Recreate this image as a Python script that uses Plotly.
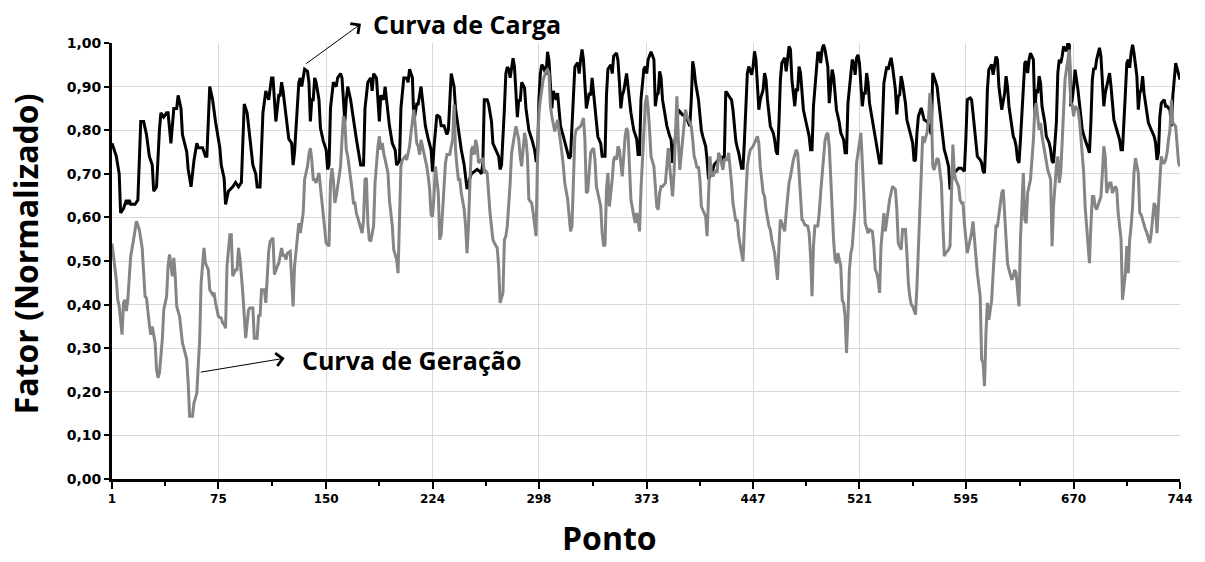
import plotly.graph_objects as go

# (ponto, valor)
carga = [
 (1,.77),(4,.74),(6,.70),(7,.61),(9,.62),(10,.63),(11,.64),(12,.63),(13,.64),(14,.63),(16,.63),(17,.63),(19,.64),(21,.82),(23,.82),(25,.79),(27,.74),(29,.72),(30,.66),(32,.67),(34,.80),(35,.84),(37,.83),(39,.84),(40,.84),(42,.77),(44,.85),(46,.85),(47,.88),(49,.85),(50,.79),(53,.75),(54,.71),(56,.67),(58,.73),(60,.77),(61,.76),(63,.76),(64,.76),(66,.74),(67,.74),(69,.90),(71,.87),(73,.82),(76,.76),(77,.72),(79,.69),(80,.63),(82,.66),(85,.67),(87,.68),(89,.67),(91,.68),(93,.86),(95,.84),(97,.78),(99,.72),(101,.70),(102,.67),(104,.67),(106,.84),(108,.89),(110,.87),(112,.92),(113,.92),(115,.82),(117,.88),(118,.88),(119,.91),(120,.89),(122,.84),(124,.78),(126,.77),
 (127,.72),(128,.75),(130,.85),(131,.91),(132,.92),(133,.90),(134,.92),(135,.94),(137,.935),(138,.91),(139,.82),(140,.87),(141,.87),(142,.92),(143,.91),(145,.87),(146,.805),(148,.775),(150,.755),(151,.71),(152,.72),(153,.85),(155,.91),(157,.90),(158,.92),(160,.93),(161,.92),(163,.82),(164,.87),(165,.90),(167,.87),(169,.82),(171,.78),(172,.76),(174,.72),(176,.72),(177,.85),(179,.91),(181,.92),(182,.89),(183,.93),(185,.92),(187,.82),(188,.88),(190,.87),(191,.90),(192,.87),(194,.81),(196,.77),(198,.755),(199,.72),(201,.73),(202,.85),(204,.92),(206,.92),(207,.91),(208,.94),(210,.92),(211,.82),(213,.86),(214,.86),(216,.90),(217,.87),(219,.81),(221,.78),(223,.755),(224,.705),(225,.76),(227,.835),(229,.83),(230,.81),(232,.81),(234,.79),(235,.80),(237,.93),(239,.90),(240,.85),(242,.80),(244,.755),(246,.72),(248,.665),(250,.69),(251,.70),
 (253,.705),(255,.71),(257,.705),(258,.70),(259,.725),(260,.87),(262,.87),(263,.86),(265,.82),(266,.77),(268,.755),(270,.74),(271,.71),(272,.72),(274,.85),(275,.93),(276,.945),(277,.94),(278,.92),(280,.965),(281,.945),(283,.83),(284,.87),(285,.866),(286,.91),(288,.897),(289,.85),(291,.80),(293,.78),(295,.755),(296,.73),(297,.73),(298,.87),(299,.93),(300,.95),(301,.946),(303,.927),(304,.98),(305,.96),(306,.91),(307,.85),(308,.89),(310,.87),(311,.885),(312,.855),(313,.81),(315,.786),(317,.763),(319,.735),(320,.74),(322,.88),(323,.945),(325,.955),(326,.93),(327,.962),(328,.985),(329,.962),(330,.89),(331,.85),(333,.885),(334,.88),(335,.92),(336,.89),(338,.83),(339,.785),(341,.77),(342,.74),(344,.74),(345,.88),(346,.94),(348,.95),(349,.93),(350,.97),(352,.977),(353,.96),(354,.91),(355,.85),(356,.88),(357,.89),(359,.93),(360,.897),(362,.84),(364,.80),(366,.78),(367,.744),(368,.744),(369,.87),(371,.94),(372,.946),(373,.93),(374,.962),(375,.973),(376,.98),
 (378,.962),(379,.855),(380,.88),(381,.885),(382,.935),(383,.92),(384,.87),(386,.83),(387,.81),(389,.786),(390,.778),(391,.725),(392,.755),(394,.817),(395,.847),(396,.843),(398,.835),(399,.835),(401,.828),(402,.817),(403,.809),(404,.87),(405,.958),(406,.939),(407,.908),(409,.87),(410,.832),(411,.80),(412,.786),(414,.763),(415,.732),(416,.687),(417,.694),(418,.706),(419,.709),(420,.721),(421,.725),(422,.729),(424,.736),(425,.74),(426,.729),(427,.74),(428,.889),(429,.885),(431,.874),(432,.87),(433,.847),(434,.805),(435,.775),(436,.76),(437,.748),(439,.713),(440,.713),(441,.778),(442,.878),(443,.931),(444,.946),(446,.927),(447,.946),(448,.981),(449,.962),(450,.904),(451,.847),(452,.87),(454,.893),(455,.931),(456,.916),(457,.87),(458,.832),(459,.809),(461,.794),(462,.778),(463,.752),(464,.744),(465,.817),(466,.916),(467,.954),(469,.966),(470,.935),(471,.962),(472,.992),(473,.985),(474,.916),(476,.855),(477,.893),(478,.893),(479,.946),(480,.931),(481,.885),(482,.847),(484,.816),(485,.80),(486,.786),(487,.755),(488,.755),(489,.855),(491,.931),(492,.977),(493,.977),(494,.954),(495,.985),(496,.996),(497,.985),
 (499,.946),(500,.862),(501,.893),(502,.939),(503,.924),(504,.893),(505,.847),(507,.817),(508,.794),(509,.786),(510,.778),(511,.748),(512,.748),(513,.862),(515,.939),(516,.962),(517,.954),(518,.927),(519,.966),(520,.973),(521,.954),(523,.855),(524,.885),(525,.885),(526,.931),(527,.908),(528,.862),(530,.824),(532,.786),(533,.763),(535,.725),(536,.725),(537,.832),(538,.908),(540,.946),(541,.939),(542,.954),(543,.966),(544,.946),(546,.893),(547,.836),(548,.878),(549,.881),(550,.924),(551,.908),(553,.862),(554,.824),(556,.797),(558,.771),(559,.729),(560,.732),(561,.794),(562,.832),(564,.851),(565,.836),(566,.824),(568,.82),(569,.813),(570,.801),(571,.79),(572,.931),(573,.92),(575,.90),(576,.87),(577,.84),(578,.80),(579,.778),(580,.755),(581,.744),(583,.717),(584,.664),(585,.687),(586,.702),(587,.706),(588,.706),(590,.713),(591,.713),(592,.713),(593,.709),(594,.706),(595,.778),(596,.87),(598,.874),(599,.87),(600,.839),(601,.801),(602,.763),(603,.74),(605,.732),(606,.725),(607,.706),(608,.702),(609,.778),(610,.893),(611,.939),(613,.951),(614,.927),(615,.946),(616,.969),(617,.962),(618,.901),(620,.847),
 (622,.885),(623,.924),(624,.90),(625,.855),(627,.801),(628,.786),(629,.778),(630,.763),(631,.732),(632,.725),(633,.778),(635,.901),(636,.954),(637,.958),(638,.931),(639,.962),(640,.977),(642,.962),(643,.839),(644,.893),(645,.885),(646,.924),(647,.908),(648,.855),(650,.817),(651,.786),(653,.771),(654,.755),(655,.729),(656,.725),(658,.817),(659,.931),(660,.962),(661,.954),(662,.969),(663,.992),(665,.981),(666,1.0),(667,.996),(668,.855),(669,.87),(670,.90),(671,.939),(673,.893),(674,.855),(675,.832),(676,.801),(677,.786),(678,.778),(680,.759),(681,.748),(682,.817),(683,.916),(684,.943),(685,.939),(686,.962),(688,.989),(689,.969),(690,.908),(691,.855),(692,.885),(693,.901),(695,.931),(696,.901),(697,.855),(698,.824),(700,.801),(702,.778),(703,.755),(704,.755),(706,.885),(707,.954),(708,.962),(709,.943),(710,.977),(711,.996),(712,.977),(714,.924),(715,.847),(716,.885),(717,.893),(718,.924),(719,.885),(721,.839),(722,.817),(724,.801),(726,.786),(727,.771),(728,.732),(729,.748),(730,.832),(731,.862),(733,.87),(734,.855),(735,.855),(736,.851),(737,.847),(738,.809),(739,.878),(741,.954),(742,.943),(743,.931),(744,.916),
]

geracao = [
 (1,.54),(4,.457),(5,.411),(6,.396),(8,.331),(9,.404),(10,.411),(11,.385),(12,.411),(13,.457),(14,.511),(16,.549),(18,.591),(20,.572),(22,.53),(24,.419),(25,.415),(27,.354),(28,.331),(29,.35),(31,.312),(32,.251),(33,.232),(34,.243),(36,.32),(37,.388),(39,.419),(40,.488),(41,.515),(43,.465),(44,.507),(45,.465),(46,.396),(48,.373),(50,.312),(51,.30),(53,.274),(54,.22),(55,.144),(57,.144),(58,.174),(59,.185),(60,.197),(62,.32),(63,.45),(65,.53),(66,.495),(68,.48),(69,.434),(71,.423),(72,.427),(73,.404),(75,.373),(77,.369),(78,.358),(79,.354),(80,.346),(81,.488),(83,.56),(84,.56),(85,.465),(87,.48),(88,.48),(89,.53),(90,.507),(92,.427),(94,.323),(96,.388),(97,.392),(99,.392),(100,.323),(102,.323),(103,.377),(104,.373),(105,.434),(107,.434),(108,.404),(110,.522),(111,.545),(113,.553),(114,.469),(116,.488),(117,.495),(119,.53),(120,.511),(121,.515),(122,.503),(123,.518),(125,.522),
 (126,.457),(127,.396),(128,.488),(130,.564),(131,.587),(132,.564),(133,.591),(134,.61),(135,.687),(137,.717),(138,.744),(139,.759),(140,.732),(141,.687),(142,.687),(143,.679),(145,.702),(146,.671),(147,.648),(148,.603),(149,.58),(150,.541),(152,.534),(153,.679),(154,.713),(155,.687),(156,.633),(157,.648),(158,.671),(160,.717),(161,.778),(162,.832),(163,.82),(164,.755),(165,.74),(166,.717),(168,.664),(169,.633),(170,.633),(171,.61),(172,.599),(173,.587),(175,.564),(176,.595),(177,.687),(178,.69),(179,.587),(180,.549),(181,.545),(183,.58),(184,.679),(186,.763),(187,.786),(188,.755),(189,.771),(190,.748),(191,.732),(193,.702),(194,.64),(196,.58),(197,.526),(199,.503),(200,.472),(201,.61),(202,.717),(203,.732),(205,.74),(206,.732),(207,.748),(208,.763),(209,.794),(210,.824),(211,.847),(213,.771),(214,.763),(215,.744),(216,.778),(217,.763),(218,.748),(220,.717),(221,.694),(222,.664),(223,.606),(224,.602),(225,.648),(226,.717),(228,.656),(229,.549),(230,.56),(231,.618),(232,.664),(233,.725),(234,.744),(236,.744),(237,.763),(238,.778),(239,.859),(240,.755),(241,.717),(242,.687),(243,.687),(244,.656),(246,.618),(247,.58),(248,.518),(249,.58),(250,.68),
 (251,.755),(252,.763),(253,.744),(254,.778),(255,.763),(256,.725),(258,.732),(259,.736),(260,.702),(261,.706),(262,.702),(263,.648),(264,.61),(266,.549),(267,.541),(269,.53),(270,.488),(271,.404),(273,.427),(274,.549),(275,.557),(276,.58),(277,.625),(278,.679),(279,.748),(281,.794),(282,.809),(283,.794),(284,.778),(285,.74),(286,.717),(288,.794),(289,.778),(290,.74),(291,.641),(292,.637),(293,.633),(294,.61),(296,.557),(297,.733),(298,.839),(299,.87),(300,.893),(301,.916),(303,.935),(304,.939),(305,.931),(306,.855),(307,.832),(308,.817),(309,.797),(311,.824),(312,.801),(313,.778),(314,.748),(315,.717),(316,.679),(318,.641),(319,.602),(320,.568),(321,.58),(322,.702),(323,.786),(324,.801),(326,.805),(327,.809),(328,.817),(329,.828),(330,.778),(331,.656),(332,.66),(334,.748),(335,.755),(336,.759),(337,.732),(338,.671),(339,.656),(341,.625),(342,.564),(343,.534),(344,.537),(345,.664),(346,.702),(347,.625),(349,.687),(350,.732),(351,.74),(352,.732),(353,.763),(354,.755),(356,.694),(357,.755),(358,.786),(359,.805),(360,.794),(361,.717),(362,.641),(364,.603),(365,.587),(366,.61),(367,.595),(368,.568),(369,.664),(371,.794),(372,.86),(373,.88),(374,.85),(375,.80),
 (376,.74),(378,.717),(379,.671),(380,.625),(381,.618),(382,.656),(383,.671),(384,.671),(386,.679),(387,.725),(388,.759),(389,.717),(390,.671),(391,.648),(392,.702),(393,.794),(394,.878),(395,.778),(396,.709),(398,.778),(399,.817),(400,.847),(401,.832),(402,.824),(404,.809),(405,.778),(406,.74),(407,.729),(408,.713),(409,.717),(410,.687),(411,.625),(412,.618),(414,.602),(415,.557),(416,.679),(417,.74),(418,.702),(419,.694),(421,.709),(422,.702),(423,.748),(424,.74),(425,.725),(426,.709),(427,.732),(429,.732),(430,.748),(431,.717),(432,.679),(433,.633),(435,.591),(436,.595),(437,.557),(439,.518),(440,.499),(441,.58),(442,.656),(443,.717),(444,.74),(445,.755),(447,.763),(448,.771),(449,.778),(450,.786),(451,.771),(452,.717),(454,.656),(455,.648),(456,.618),(457,.595),(458,.58),(459,.572),(460,.549),(462,.518),(463,.488),(464,.457),(465,.534),(466,.595),(467,.587),(469,.568),(470,.61),(471,.648),(472,.679),(473,.694),(474,.713),(475,.732),(477,.755),(478,.748),(479,.702),(480,.648),(481,.595),(482,.591),(483,.583),(485,.58),(486,.564),(487,.511),(488,.419),(489,.534),(490,.58),(492,.58),(493,.61),(494,.656),(495,.702),(496,.74),(497,.775),(498,.79),
 (499,.794),(500,.763),(501,.687),(502,.602),(503,.549),(504,.503),(505,.495),(506,.518),(508,.488),(509,.41),(510,.404),(511,.373),(512,.289),(513,.373),(514,.48),(515,.518),(516,.534),(518,.625),(519,.725),(520,.748),(522,.794),(523,.725),(524,.641),(525,.587),(527,.564),(528,.572),(530,.568),(531,.534),(532,.48),(533,.472),(534,.457),(535,.427),(536,.534),(538,.61),(539,.568),(540,.595),(541,.625),(542,.641),(543,.656),(544,.671),(546,.664),(547,.618),(548,.541),(549,.534),(550,.526),(551,.572),(553,.572),(554,.518),(555,.45),(556,.419),(557,.40),(558,.396),(560,.377),(561,.442),(562,.534),(563,.625),(564,.717),(565,.786),(566,.771),(568,.794),(569,.824),(570,.885),(571,.855),(572,.717),(573,.709),(575,.736),(576,.732),(577,.709),(578,.679),(579,.587),(580,.511),(581,.518),(583,.526),(584,.534),(585,.687),(586,.767),(587,.702),(588,.687),(590,.671),(591,.641),(592,.633),(593,.633),(594,.587),(595,.557),(596,.518),(598,.549),(599,.564),(600,.591),(601,.549),(602,.518),(603,.472),(605,.419),(606,.274),(607,.266),(608,.213),(609,.335),(610,.404),(611,.365),(613,.411),(614,.472),(615,.534),(616,.58),(617,.58),(618,.61),(620,.656),
 (621,.664),(622,.61),(623,.534),(624,.495),(625,.48),(627,.457),(628,.465),(629,.48),(630,.472),(631,.427),(632,.396),(633,.549),(635,.702),(636,.595),(637,.587),(638,.656),(639,.671),(640,.687),(642,.778),(643,.847),(644,.862),(645,.832),(646,.801),(647,.817),(648,.786),(650,.748),(651,.725),(652,.709),(653,.698),(654,.687),(655,.534),(656,.625),(658,.717),(659,.74),(660,.679),(661,.702),(662,.771),(663,.855),(664,.916),(666,.962),(667,.985),(668,.862),(669,.858),(670,.832),(671,.855),(673,.847),(674,.824),(675,.786),(676,.748),(677,.702),(678,.625),(680,.549),(681,.495),(682,.58),(683,.648),(684,.648),(685,.625),(686,.618),(688,.641),(689,.648),(690,.702),(691,.763),(692,.74),(693,.656),(695,.679),(696,.679),(697,.656),(698,.664),(699,.671),(700,.664),(701,.61),(703,.549),(704,.411),(706,.472),(707,.534),(708,.472),(709,.549),(710,.58),(711,.625),(712,.702),(713,.736),(715,.702),(716,.61),(717,.606),(718,.595),(719,.58),(720,.572),(721,.564),(723,.541),(724,.564),(725,.61),(726,.633),(727,.625),(728,.564),(730,.687),(731,.74),(732,.725),(733,.725),(734,.732),(735,.748),(736,.778),(737,.80),(738,.87),(739,.817),(741,.809),(742,.755),(743,.725),(744,.717),
]

x_ticks = [1, 75, 150, 224, 298, 373, 447, 521, 595, 670, 744]
x_minor = [38, 112.5, 187, 261, 335.5, 410, 484, 558, 632.5, 707]
y_ticks = [0, 0.1, 0.2, 0.3, 0.4, 0.5, 0.6, 0.7, 0.8, 0.9, 1.0]

carga_ponto = [p for p, v in carga]
carga_valor = [v for p, v in carga]
ger_ponto = [p for p, v in geracao]
ger_valor = [v for p, v in geracao]

fig = go.Figure()
fig.add_trace(go.Scatter(x=carga_ponto, y=carga_valor, mode="lines",
                         line=dict(color="#000000", width=3), cliponaxis=False,
                         name="Curva de Carga"))
fig.add_trace(go.Scatter(x=ger_ponto, y=ger_valor, mode="lines",
                         line=dict(color="#858585", width=3), cliponaxis=False,
                         name="Curva de Geração"))

tick_font_y = dict(family="DejaVu Sans", size=14, color="black", weight="bold")
tick_font_x = dict(family="DejaVu Sans", size=12, color="black", weight="bold")
label_font = dict(family="Open Sans", size=25, color="black", weight="bold")

fig.update_layout(
    width=1205, height=562,
    margin=dict(l=112, r=18, t=43, b=83),
    paper_bgcolor="white", plot_bgcolor="white",
    showlegend=False,
    separators=",.",
    xaxis=dict(range=[1, 744], tickmode="array", tickvals=x_ticks,
               ticktext=[str(t) for t in x_ticks],
               showgrid=True, gridcolor="#d9d9d9", gridwidth=1,
               zeroline=False, showline=True, linecolor="black", linewidth=3,
               ticks="outside", ticklen=7, tickwidth=2, tickcolor="black",
               tickfont=tick_font_x,
               minor=dict(tickmode="array", tickvals=x_minor, ticks="outside",
                          ticklen=4, tickwidth=2, tickcolor="black", showgrid=False)),
    yaxis=dict(range=[0, 1], tickmode="array", tickvals=y_ticks, tickformat=".2f",
               showgrid=True, gridcolor="#d9d9d9", gridwidth=1,
               zeroline=False, showline=True, linecolor="black", linewidth=3,
               ticks="outside", ticklen=5, tickwidth=2, tickcolor="black",
               tickfont=tick_font_y),
)

annotations = [
    dict(x=174.2, y=1.044, ax=135, ay=0.95, xref="x", yref="y", axref="x", ayref="y",
         text="", showarrow=True, arrowhead=4, arrowsize=2.5, arrowwidth=1, arrowcolor="black"),
    dict(x=121.1, y=0.277, ax=61.7, ay=0.2445, xref="x", yref="y", axref="x", ayref="y",
         text="", showarrow=True, arrowhead=4, arrowsize=2.5, arrowwidth=1, arrowcolor="black"),
    dict(x=0.2426, y=1.044, xref="paper", yref="paper", xanchor="left", yanchor="middle",
         text="Curva de Carga", showarrow=False, font=label_font),
    dict(x=132, y=0.273, xref="x", yref="y", xanchor="left", yanchor="middle",
         text="Curva de Geração", showarrow=False, font=label_font),
    dict(x=-0.0808, y=0.517, xref="paper", yref="paper", xanchor="center", yanchor="middle",
         text="Fator (Normalizado)", textangle=-90, showarrow=False,
         font=dict(family="Open Sans", size=32, color="black", weight="bold")),
    dict(x=0.466, y=-0.1874, xref="paper", yref="paper", xanchor="center", yanchor="bottom",
         text="Ponto", showarrow=False,
         font=dict(family="Open Sans", size=32, color="black", weight="bold")),
]
fig.update_layout(annotations=annotations)

fig.write_html("out.html", config={"displayModeBar": False},
               post_script="document.body.style.margin='0';document.body.style.overflow='hidden';")
